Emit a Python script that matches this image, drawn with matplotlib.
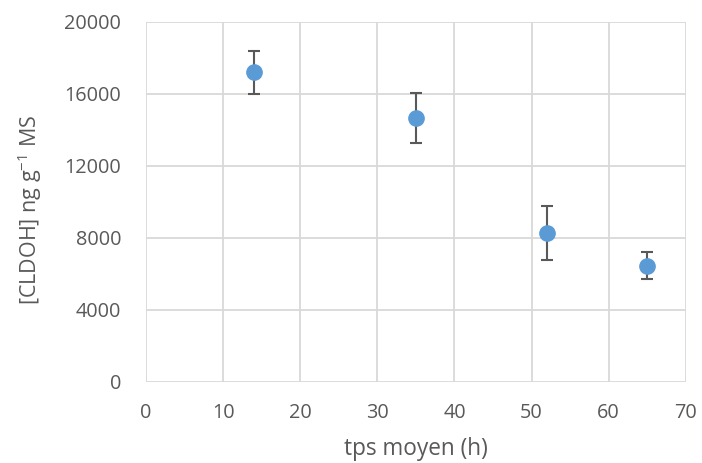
import matplotlib
matplotlib.use('Agg')
import matplotlib.pyplot as plt

# mean residence time [h] vs concentration
tps_moyen = [14, 35, 52, 65]
cldoh = [17200, 14650, 8250, 6450]
err_haut = [1200, 1400, 1500, 750]
err_bas = [1200, 1400, 1500, 750]

x_ticks = list(range(0, 71, 10))
y_ticks = list(range(0, 20001, 4000))

TXT = '#595959'
GRID = '#d9d9d9'

plt.rcParams['font.family'] = ['Open Sans', 'DejaVu Sans']
plt.rcParams['mathtext.default'] = 'regular'

fig = plt.figure(figsize=(7.02, 4.63), dpi=100)
ax = fig.add_axes([0.208, 0.1756, 0.769, 0.777])

ax.errorbar(tps_moyen, cldoh, yerr=[err_bas, err_haut], fmt='o',
            color='#5b9bd5', markersize=11, ecolor='#595959',
            elinewidth=1.5, capsize=4.5, capthick=1.5, zorder=3)

ax.set_xlim(0, 70)
ax.set_ylim(0, 20000)
ax.set_xticks(x_ticks)
ax.set_yticks(y_ticks)
ax.grid(True, color=GRID, lw=1.3)
ax.set_axisbelow(True)
for s in ax.spines.values():
    s.set_visible(False)
ax.tick_params(length=0, labelsize=14.3, colors=TXT, pad=15)
ax.tick_params(axis='y', pad=18)

# axis titles placed as in the original (slightly off-centre)
fig.text(0.5926, 0.004, 'tps moyen (h)', fontsize=16.3, color=TXT,
         ha='center', va='bottom')
fig.text(0.0427, 0.5464, '[CLDOH] ng g$^{-1}$ MS', fontsize=15.5, color=TXT,
         ha='center', va='center', rotation=90)

fig.savefig('out.png', dpi=100)
